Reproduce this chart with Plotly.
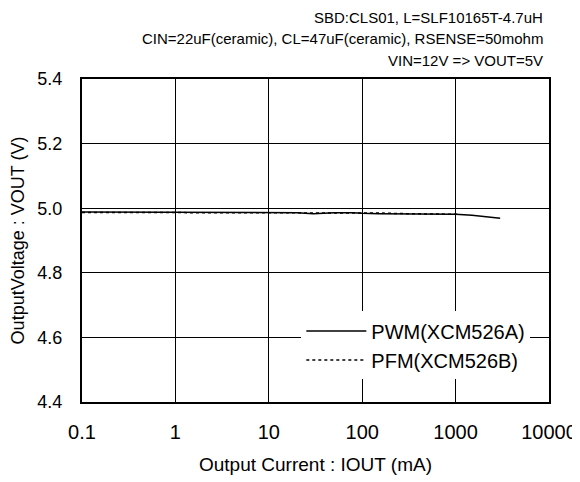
import plotly.graph_objects as go

# Data (Output current mA, Output voltage V)
pwm_iout = [0.1, 1, 10, 20, 30, 50, 80, 100, 150, 300, 1000, 1500, 3000]
pwm_vout = [4.988, 4.988, 4.988, 4.986, 4.983, 4.986, 4.986, 4.984, 4.983, 4.982, 4.981, 4.978, 4.969]

pfm_iout = [0.1, 1, 10, 20, 30, 50, 80, 100, 150, 300, 700, 1100]
pfm_vout = [4.987, 4.987, 4.987, 4.986, 4.986, 4.987, 4.987, 4.986, 4.985, 4.983, 4.982, 4.981]

x_tickvals = [0.1, 1, 10, 100, 1000, 10000]
x_ticktext = ["0.1", "1", "10", "100", "1000", "10000"]
y_tickvals = [4.4, 4.6, 4.8, 5.0, 5.2, 5.4]
y_ticktext = ["4.4", "4.6", "4.8", "5.0", "5.2", "5.4"]

title_lines = [
    "SBD:CLS01, L=SLF10165T-4.7uH",
    "CIN=22uF(ceramic), CL=47uF(ceramic), RSENSE=50mohm",
    "VIN=12V => VOUT=5V",
]

FONT = "Liberation Sans, Arial, sans-serif"
W, H = 572, 474
ML, MT, MR, MB = 74, 71, 31, 80
PLOT_H = H - MT - MB
title_offsets = [62, 41, 19]

fig = go.Figure()
fig.add_trace(go.Scatter(x=pwm_iout, y=pwm_vout, mode="lines", name="PWM(XCM526A)",
                         line=dict(color="black", width=1.5)))
fig.add_trace(go.Scatter(x=pfm_iout, y=pfm_vout, mode="lines", name="PFM(XCM526B)",
                         line=dict(color="black", width=1.5, dash="dot")))

for t, off in zip(title_lines, title_offsets):
    fig.add_annotation(text=t, xref="paper", yref="paper", x=0.9914, y=1 + off / PLOT_H,
                       xanchor="right", yanchor="middle", showarrow=False,
                       font=dict(family=FONT, size=15, color="black"))

fig.update_layout(
    width=W, height=H,
    margin=dict(l=ML, r=MR, t=MT, b=MB, autoexpand=False),
    paper_bgcolor="white", plot_bgcolor="white",
    font=dict(family=FONT, color="black"),
    showlegend=True,
    legend=dict(x=0.96, y=0.07, xanchor="right", yanchor="bottom",
                bgcolor="white", borderwidth=0, itemwidth=60,
                font=dict(family=FONT, size=20, color="black"),
                tracegroupgap=0),
    xaxis=dict(type="log", range=[-1, 4], tickvals=x_tickvals, ticktext=x_ticktext,
               showgrid=True, gridcolor="black", gridwidth=1.2,
               showline=True, linecolor="black", linewidth=2, mirror=True,
               ticks="", zeroline=False, automargin=False, ticklabelstandoff=11,
               tickfont=dict(family=FONT, size=20),
               title=dict(text="Output Current : IOUT (mA)", font=dict(family=FONT, size=19), standoff=16)),
    yaxis=dict(range=[4.4, 5.4], tickvals=y_tickvals, ticktext=y_ticktext,
               showgrid=True, gridcolor="black", gridwidth=1.2,
               showline=True, linecolor="black", linewidth=2, mirror=True,
               ticks="", zeroline=False, automargin=False, ticklabelstandoff=14,
               tickfont=dict(family=FONT, size=18),
               title=dict(text="OutputVoltage : VOUT (V)", font=dict(family=FONT, size=18), standoff=14)),
)

fig.write_html("out.html")
